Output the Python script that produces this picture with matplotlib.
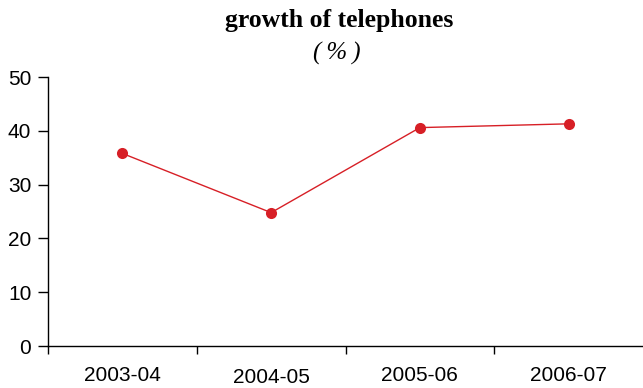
import matplotlib.pyplot as plt
import matplotlib.transforms as mtransforms
import numpy as np

years = ["2003-04", "2004-05", "2005-06", "2006-07"]
growth = [35.8, 24.8, 40.6, 41.3]
y_ticks = [0, 10, 20, 30, 40, 50]

red = "#d71f26"


def make_plot():
    fig = plt.figure(figsize=(6.43, 3.88), dpi=100)
    ax = fig.add_axes([0.0747, 0.108, 0.9253, 0.6935])
    x = np.arange(len(years))
    ax.plot(x, growth, color=red, linewidth=1.0, marker="o", markersize=8,
            markeredgewidth=0, clip_on=False, zorder=5)

    ax.set_xlim(-0.5, len(years) - 0.5)
    ax.set_ylim(0, 50)
    ax.set_yticks(y_ticks)
    ax.set_xticks(x)
    ax.set_xticklabels(years)
    ax.set_xticks(x - 0.5, minor=True)
    ax.tick_params(axis="x", which="major", length=0, pad=14, labelsize=15)
    ax.tick_params(axis="x", which="minor", length=6, width=1, direction="out")
    ax.tick_params(axis="y", length=7, width=1, pad=5, labelsize=15)
    for lbl in ax.get_xticklabels() + ax.get_yticklabels():
        lbl.set_fontfamily("Liberation Sans")
    # the second label sits a bit lower in the original
    lbl = ax.get_xticklabels()[1]
    lbl.set_transform(lbl.get_transform() + mtransforms.ScaledTranslation(0, -2.5 / 100, fig.dpi_scale_trans))

    for side in ["top", "right"]:
        ax.spines[side].set_visible(False)
    for side in ["left", "bottom"]:
        ax.spines[side].set_linewidth(1)

    fig.text(0.527, 0.948, "growth of telephones", ha="center", va="center",
             fontsize=18.5, fontweight="bold", family="Liberation Serif")
    fig.text(0.524, 0.862, "(\u2009%\u2009)", ha="center", va="center",
             fontsize=18, style="italic", family="Liberation Serif")

    fig.savefig("out.png", dpi=100)


if __name__ == "__main__":
    make_plot()
